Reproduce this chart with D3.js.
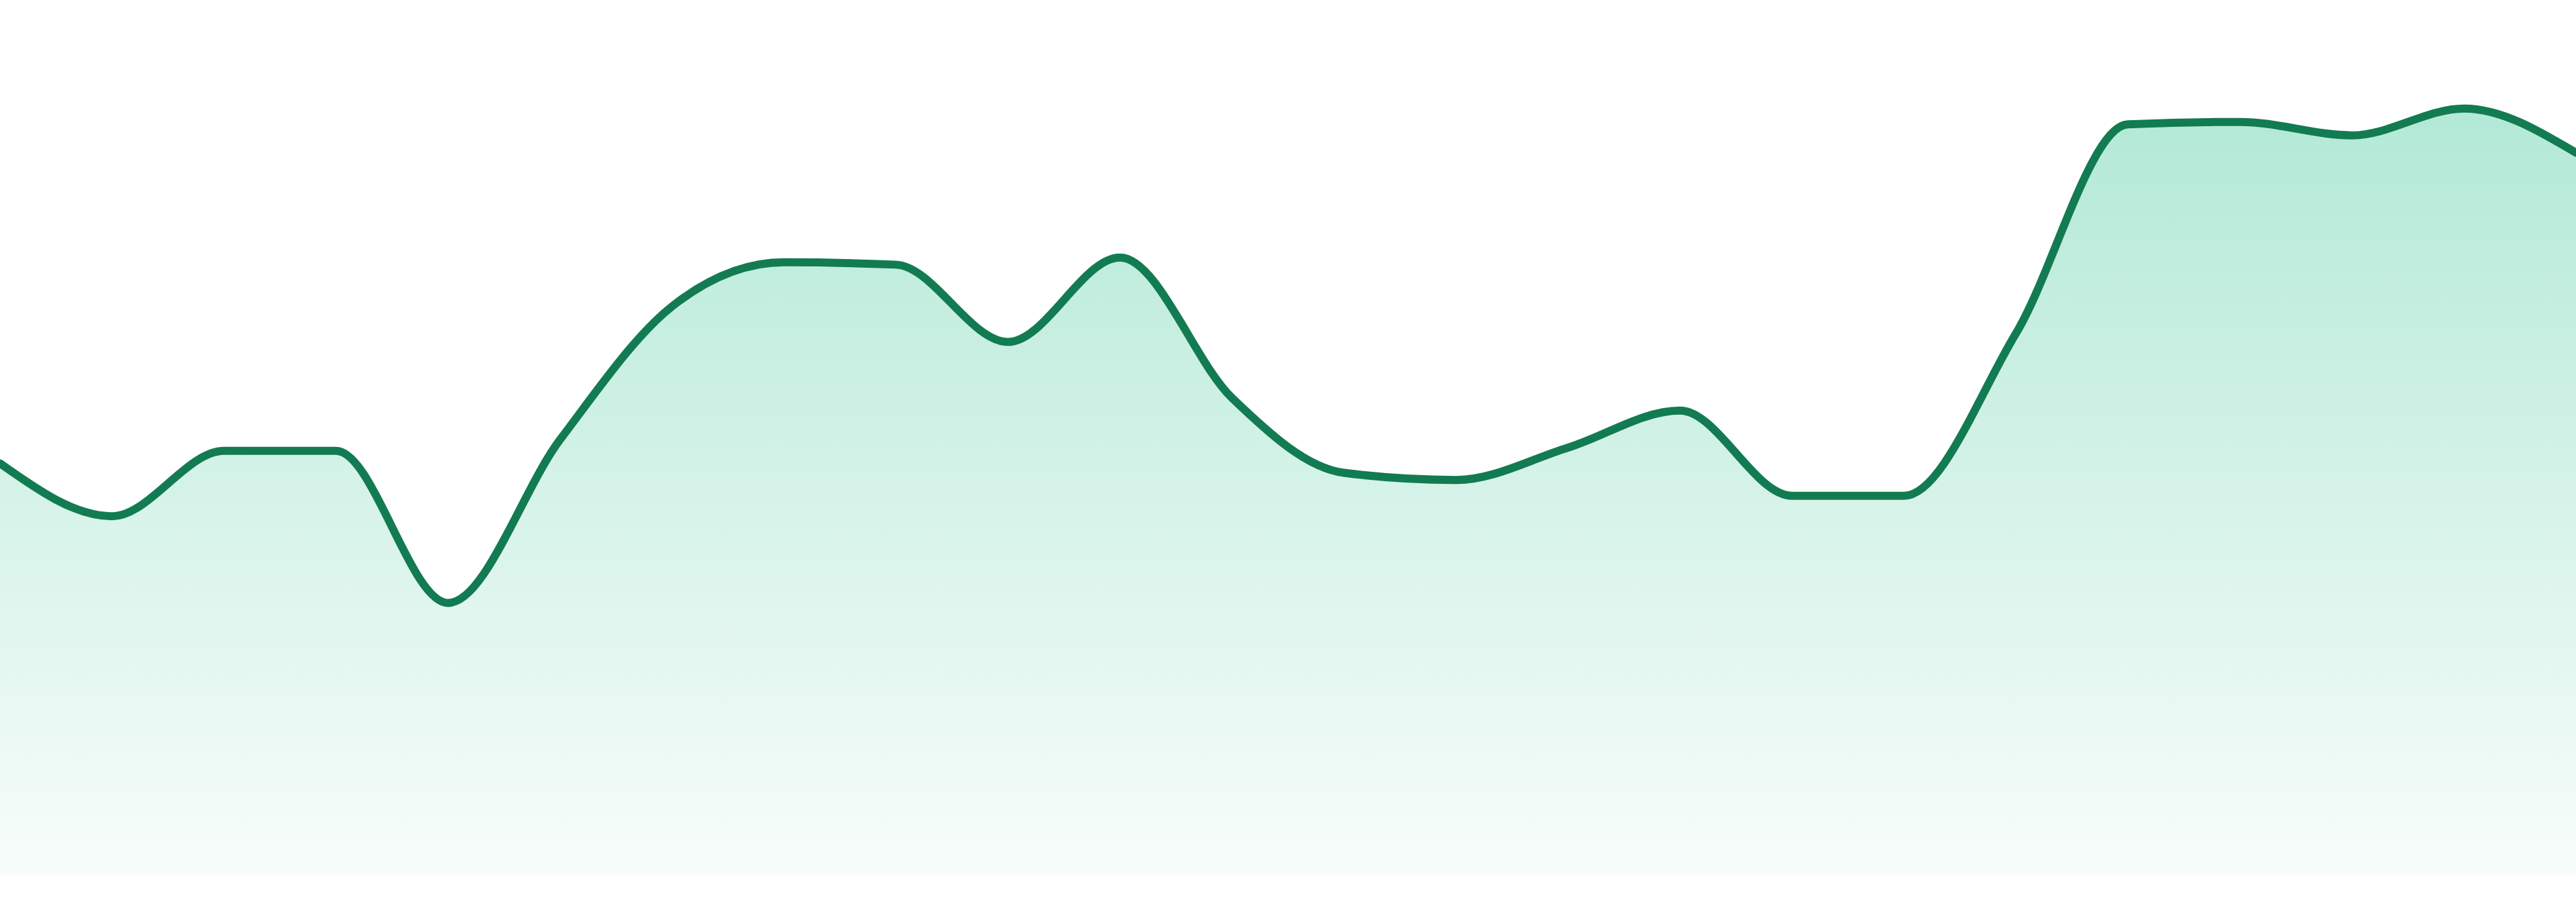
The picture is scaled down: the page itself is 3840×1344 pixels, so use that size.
<!DOCTYPE html>
<html>
<head>
<meta charset="utf-8">
<script src="https://cdn.jsdelivr.net/npm/d3@7"></script>
<style>
  html, body { margin: 0; padding: 0; background: #ffffff; }
  svg { display: block; }
</style>
</head>
<body>
<svg id="chart" width="3840" height="1344"></svg>
<script>
const categories = ["1","2","3","4","5","6","7","8","9","10","11","12","13","14","15","16","17","18","19","20","21","22","23","24"];
const values = [52.3, 45.6, 53.9, 53.9, 34.6, 55.3, 72.2, 77.8, 77.5, 67.7, 78.4, 60.6, 51.1, 50.2, 54.3, 59.0, 48.2, 48.2, 68.8, 95.3, 95.6, 93.9, 97.3, 91.7];
const yDomain = [0, 100];

const W = 3840, H = 1344;
const svg = d3.select("#chart");

const x = d3.scalePoint().domain(categories).range([0, W]);
const y = d3.scaleLinear().domain(yDomain).range([1305, 130]);

const data = categories.map((c, i) => ({ c, v: values[i] }));

const defs = svg.append("defs");
const grad = defs.append("linearGradient")
  .attr("id", "fillGrad")
  .attr("x1", 0).attr("y1", 0).attr("x2", 0).attr("y2", 1);
grad.append("stop").attr("offset", "0%").attr("stop-color", "#10b981").attr("stop-opacity", 0.32);
grad.append("stop").attr("offset", "100%").attr("stop-color", "#10b981").attr("stop-opacity", 0.03);

const area = d3.area()
  .x(d => x(d.c))
  .y0(y(0))
  .y1(d => y(d.v))
  .curve(d3.curveMonotoneX);

const line = d3.line()
  .x(d => x(d.c))
  .y(d => y(d.v))
  .curve(d3.curveMonotoneX);

svg.append("path")
  .datum(data)
  .attr("d", area)
  .attr("fill", "url(#fillGrad)");

svg.append("path")
  .datum(data)
  .attr("d", line)
  .attr("fill", "none")
  .attr("stroke", "#127b52")
  .attr("stroke-width", 12)
  .attr("stroke-linejoin", "round")
  .attr("stroke-linecap", "round");
</script>
</body>
</html>
